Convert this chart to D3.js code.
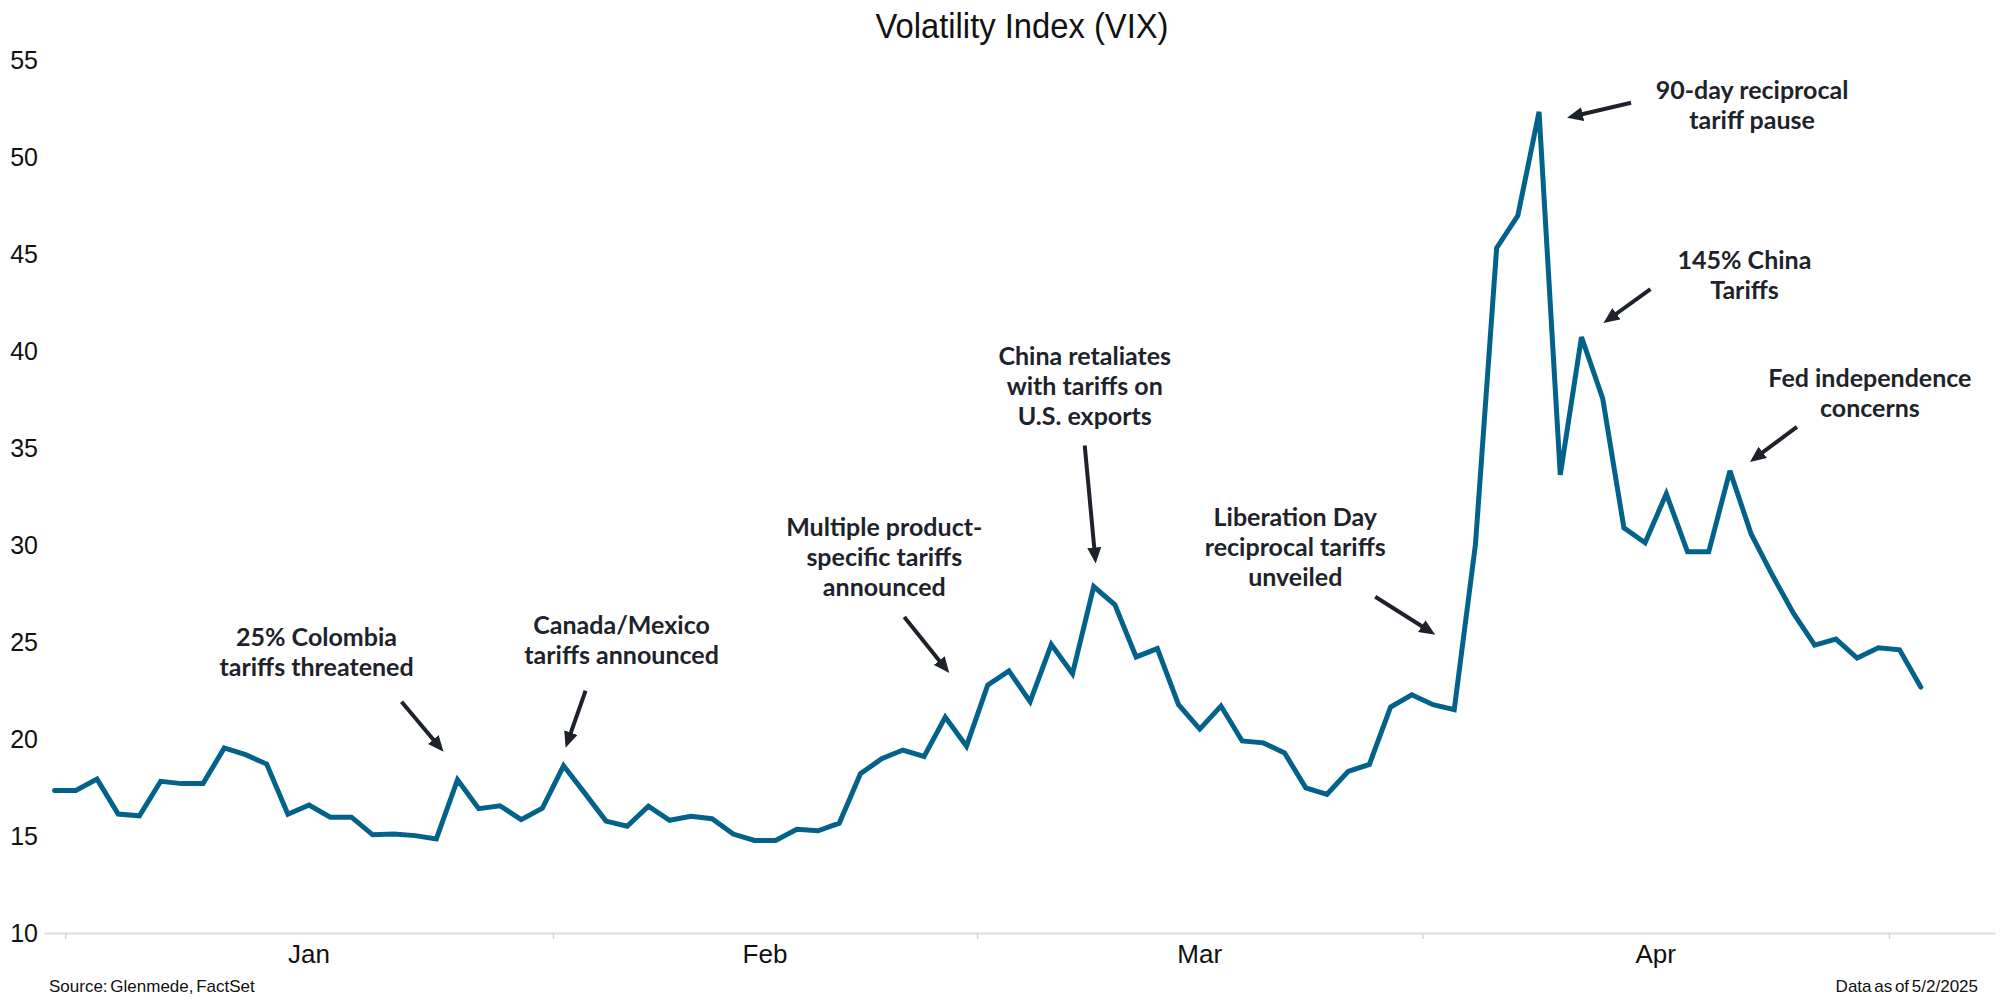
<!DOCTYPE html>
<html>
<head>
<meta charset="utf-8">
<title>Volatility Index (VIX)</title>
<script src="https://cdn.jsdelivr.net/npm/d3@7"></script>
<style>
  body { margin: 0; background: #fff; }
  .lbl { font-family: "Liberation Sans", Arial, sans-serif; fill: #111; }
  .note { font-family: Lato, "Open Sans", sans-serif; font-weight: 700; font-size: 25px; fill: #1e232b; }
</style>
</head>
<body>
<div id="chart"></div>
<script>
// weekday dates, Dec 31 2024 - May 2 2025 (holidays carry the prior close)
var dates = [
  "2024-12-31",
  "2025-01-01","2025-01-02","2025-01-03","2025-01-06","2025-01-07","2025-01-08","2025-01-09","2025-01-10",
  "2025-01-13","2025-01-14","2025-01-15","2025-01-16","2025-01-17","2025-01-20","2025-01-21","2025-01-22",
  "2025-01-23","2025-01-24","2025-01-27","2025-01-28","2025-01-29","2025-01-30","2025-01-31",
  "2025-02-03","2025-02-04","2025-02-05","2025-02-06","2025-02-07","2025-02-10","2025-02-11","2025-02-12",
  "2025-02-13","2025-02-14","2025-02-17","2025-02-18","2025-02-19","2025-02-20","2025-02-21","2025-02-24",
  "2025-02-25","2025-02-26","2025-02-27","2025-02-28",
  "2025-03-03","2025-03-04","2025-03-05","2025-03-06","2025-03-07","2025-03-10","2025-03-11","2025-03-12",
  "2025-03-13","2025-03-14","2025-03-17","2025-03-18","2025-03-19","2025-03-20","2025-03-21","2025-03-24",
  "2025-03-25","2025-03-26","2025-03-27","2025-03-28","2025-03-31",
  "2025-04-01","2025-04-02","2025-04-03","2025-04-04","2025-04-07","2025-04-08","2025-04-09","2025-04-10",
  "2025-04-11","2025-04-14","2025-04-15","2025-04-16","2025-04-17","2025-04-18","2025-04-21","2025-04-22",
  "2025-04-23","2025-04-24","2025-04-25","2025-04-28","2025-04-29","2025-04-30",
  "2025-05-01","2025-05-02"
];

var vix = [
  17.35,
  17.35, 17.93, 16.13, 16.04, 17.82, 17.70, 17.70, 19.54,
  19.19, 18.71, 16.12, 16.60, 15.97, 15.97, 15.06, 15.10,
  15.02, 14.85, 17.90, 16.41, 16.56, 15.84, 16.43,
  18.62, 17.21, 15.77, 15.50, 16.54, 15.81, 16.02, 15.89,
  15.10, 14.77, 14.77, 15.35, 15.27, 15.66, 18.21, 18.98,
  19.43, 19.10, 21.13, 19.63,
  22.78, 23.51, 21.93, 24.87, 23.37, 27.86, 26.92, 24.23,
  24.66, 21.77, 20.51, 21.70, 19.90, 19.80, 19.28, 17.48,
  17.15, 18.33, 18.69, 21.65, 22.28,
  21.77, 21.51, 30.02, 45.31, 46.98, 52.33, 33.62, 40.72,
  37.56, 30.89, 30.12, 32.64, 29.65, 29.65, 33.82, 30.57,
  28.45, 26.47, 24.84, 25.15, 24.17, 24.70,
  24.60, 22.68
];

var monthLabels = ["Jan", "Feb", "Mar", "Apr"];
var yTicks = [10, 15, 20, 25, 30, 35, 40, 45, 50, 55];

// annotations: event date, text lines; offsets are from the point on the line
var notes = [
  {date: "2025-01-27", lines: ["25% Colombia", "tariffs threatened"], text: [-141, -143], from: [-56, -78], to: [-14, -28]},
  {date: "2025-02-03", lines: ["Canada/Mexico", "tariffs announced"], text: [58, -141], from: [22, -75], to: [2, -18]},
  {date: "2025-02-27", lines: ["Multiple product-", "specific tariffs", "announced"], text: [-61, -190], from: [-41, -100], to: [4, -44]},
  {date: "2025-03-10", lines: ["China retaliates", "with tariffs on", "U.S. exports"], text: [-9, -231], from: [-9, -141], to: [2, -23]},
  {date: "2025-04-02", lines: ["Liberation Day", "reciprocal tariffs", "unveiled"], text: [-159, -193], from: [-79, -113], to: [-19, -75]},
  {date: "2025-04-08", lines: ["90-day reciprocal", "tariff pause"], text: [213, -22], from: [92, -9], to: [28, 6]},
  {date: "2025-04-10", lines: ["145% China", "Tariffs"], text: [163, -77], from: [69, -48], to: [22, -14]},
  {date: "2025-04-21", lines: ["Fed independence", "concerns"], text: [140, -93], from: [67, -44], to: [20, -9]}
];

var W = 2000, H = 1007;

var svg = d3.select("#chart").append("svg")
    .attr("width", W)
    .attr("height", H)
    .style("display", "block");

var defs = svg.append("defs");
defs.append("marker")
    .attr("id", "head")
    .attr("markerUnits", "userSpaceOnUse")
    .attr("viewBox", "0 0 16 14")
    .attr("refX", 16)
    .attr("refY", 7)
    .attr("markerWidth", 16)
    .attr("markerHeight", 14)
    .attr("orient", "auto")
    .append("path")
    .attr("d", "M0,0 L16,7 L0,14 Z")
    .attr("fill", "#1e232b");

// x is by position of the weekday in the list
var x = d3.scaleLinear()
    .domain([-0.5, 91.5])
    .range([44, 1995]);
var y = d3.scaleLinear()
    .domain([10, 55])
    .range([933, 60]);

var idx = {};
dates.forEach(function(d, i) { idx[d] = i; });

// month boundaries (between last day of one month and first of the next)
var bounds = [];
for (var i = 1; i < dates.length; i++) {
    if (dates[i].slice(0, 7) !== dates[i - 1].slice(0, 7)) bounds.push(i - 0.5);
}

// title
svg.append("text")
    .attr("class", "lbl")
    .attr("x", 1022)
    .attr("y", 38)
    .attr("text-anchor", "middle")
    .attr("font-size", 35)
    .attr("textLength", 293)
    .attr("lengthAdjust", "spacingAndGlyphs")
    .text("Volatility Index (VIX)");

// y axis labels
var yAxis = svg.append("g")
    .attr("transform", "translate(38,0)")
    .call(d3.axisLeft(y).tickValues(yTicks).tickSize(0).tickPadding(0));
yAxis.select(".domain").remove();
yAxis.selectAll("text")
    .attr("class", "lbl")
    .attr("font-size", 25)
    .attr("fill", "#111");

// x axis
var xAxis = svg.append("g")
    .attr("transform", "translate(0," + y(10) + ")")
    .call(d3.axisBottom(x).tickValues(bounds).tickFormat("").tickSize(6).tickSizeOuter(0));
xAxis.select(".domain").attr("stroke", "#dcdcdc").attr("stroke-width", 2);
xAxis.selectAll(".tick line").attr("stroke", "#d4d4d4").attr("stroke-width", 1.5);

svg.append("g").selectAll("text")
    .data(monthLabels)
    .enter().append("text")
    .attr("class", "lbl")
    .attr("x", function(d, i) { return (x(bounds[i]) + x(bounds[i + 1])) / 2; })
    .attr("y", 963)
    .attr("text-anchor", "middle")
    .attr("font-size", 26)
    .text(function(d) { return d; });

// the line
var line = d3.line()
    .x(function(d, i) { return x(i); })
    .y(function(d) { return y(d); });

svg.append("path")
    .datum(vix)
    .attr("d", line)
    .attr("fill", "none")
    .attr("stroke", "#03628a")
    .attr("stroke-width", 5)
    .attr("stroke-linejoin", "miter")
    .attr("stroke-miterlimit", 3)
    .attr("stroke-linecap", "round");

// annotations
var g = svg.append("g").selectAll("g")
    .data(notes)
    .enter().append("g")
    .attr("transform", function(d) {
        var i = idx[d.date];
        return "translate(" + x(i) + "," + y(vix[i]) + ")";
    });

g.append("line")
    .attr("x1", function(d) { return d.from[0]; })
    .attr("y1", function(d) { return d.from[1]; })
    .attr("x2", function(d) { return d.to[0]; })
    .attr("y2", function(d) { return d.to[1]; })
    .attr("stroke", "#1e232b")
    .attr("stroke-width", 4)
    .attr("stroke-dasharray", function(d) {
        var len = Math.hypot(d.to[0] - d.from[0], d.to[1] - d.from[1]);
        return (len - 12) + " 100";
    })
    .attr("marker-end", "url(#head)");

g.each(function(d) {
    var t = d3.select(this).append("text")
        .attr("class", "note")
        .attr("text-anchor", "middle");
    d.lines.forEach(function(s, k) {
        t.append("tspan")
            .attr("x", d.text[0])
            .attr("y", d.text[1] + 9 + k * 30)
            .text(s);
    });
});

// footer
svg.append("text")
    .attr("class", "lbl")
    .attr("x", 49)
    .attr("y", 992)
    .attr("font-size", 17)
    .attr("word-spacing", -2)
    .text("Source: Glenmede, FactSet");

svg.append("text")
    .attr("class", "lbl")
    .attr("x", 1978)
    .attr("y", 992)
    .attr("text-anchor", "end")
    .attr("font-size", 17)
    .attr("word-spacing", -2)
    .text("Data as of 5/2/2025");
</script>
</body>
</html>
